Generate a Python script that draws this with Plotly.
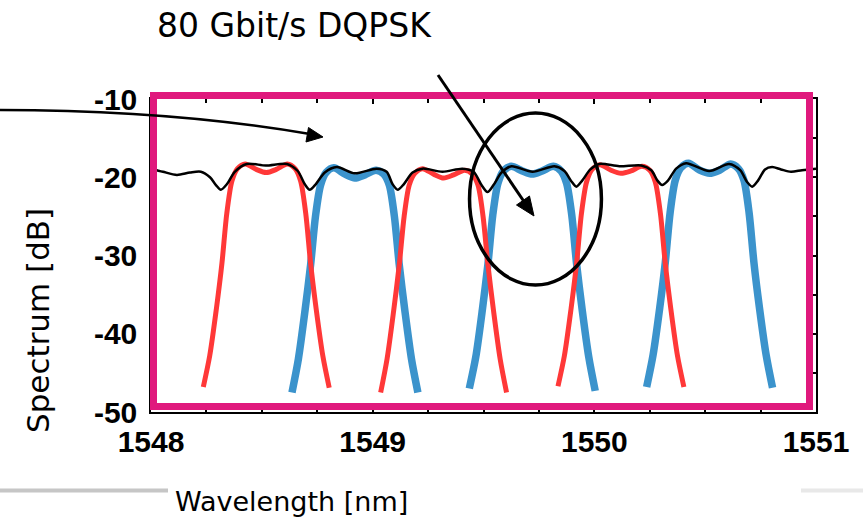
import plotly.graph_objects as go

# ---- spectra (wavelength in nm, power in dB) ----
red_ch1_x = [1548.236, 1548.265, 1548.295, 1548.320, 1548.342, 1548.365, 1548.390, 1548.425, 1548.475, 1548.520,
             1548.565, 1548.615, 1548.650, 1548.675, 1548.698, 1548.720, 1548.745, 1548.775, 1548.804]
red_ch1_y = [-46.8, -42.8, -36.8, -31.0, -24.6, -20.5, -18.9, -18.3, -19.0, -19.4,
             -19.0, -18.3, -18.9, -20.5, -24.6, -31.0, -36.8, -42.8, -46.9]

red_ch2_x = [1549.036, 1549.065, 1549.095, 1549.120, 1549.142, 1549.165, 1549.190, 1549.225, 1549.275, 1549.320,
             1549.365, 1549.415, 1549.450, 1549.475, 1549.498, 1549.520, 1549.545, 1549.575, 1549.604]
red_ch2_y = [-47.5, -43.2, -37.0, -31.2, -25.0, -21.0, -19.5, -18.9, -19.6, -20.1,
             -19.7, -19.1, -19.6, -21.0, -25.0, -31.2, -37.0, -43.2, -47.5]

red_ch3_x = [1549.836, 1549.865, 1549.895, 1549.920, 1549.942, 1549.965, 1549.990, 1550.025, 1550.075, 1550.120,
             1550.165, 1550.215, 1550.250, 1550.275, 1550.298, 1550.320, 1550.345, 1550.375, 1550.404]
red_ch3_y = [-46.7, -42.8, -36.8, -31.0, -24.6, -20.6, -19.0, -18.4, -19.1, -19.5,
             -19.2, -18.6, -19.1, -20.6, -24.6, -31.0, -36.8, -42.8, -46.8]

blue_ch1_x = [1548.636, 1548.665, 1548.695, 1548.720, 1548.742, 1548.765, 1548.790, 1548.825, 1548.875, 1548.920,
              1548.965, 1549.015, 1549.050, 1549.075, 1549.098, 1549.120, 1549.145, 1549.175, 1549.204]
blue_ch1_y = [-47.5, -43.2, -37.0, -31.2, -25.0, -21.0, -19.4, -18.8, -19.6, -20.1,
              -19.7, -19.1, -19.6, -21.0, -25.0, -31.2, -37.0, -43.2, -47.5]

blue_ch2_x = [1549.436, 1549.465, 1549.495, 1549.520, 1549.542, 1549.565, 1549.590, 1549.625, 1549.675, 1549.720,
              1549.765, 1549.815, 1549.850, 1549.875, 1549.898, 1549.920, 1549.945, 1549.975, 1550.004]
blue_ch2_y = [-47.0, -43.0, -36.9, -31.1, -24.8, -20.8, -19.2, -18.6, -19.2, -19.6,
              -19.2, -18.6, -19.2, -20.8, -24.8, -31.1, -36.9, -43.0, -47.3]

blue_ch3_x = [1550.236, 1550.265, 1550.295, 1550.320, 1550.342, 1550.365, 1550.390, 1550.425, 1550.475, 1550.520,
              1550.565, 1550.615, 1550.650, 1550.675, 1550.698, 1550.720, 1550.745, 1550.775, 1550.804]
blue_ch3_y = [-46.8, -42.7, -36.7, -30.9, -24.5, -20.4, -18.8, -18.2, -19.1, -19.5,
              -19.1, -18.3, -18.9, -20.4, -24.5, -30.9, -36.7, -42.7, -46.9]

# combined spectrum
total_x = [1548.000, 1548.054, 1548.117, 1548.176, 1548.225, 1548.266, 1548.293, 1548.315, 1548.342, 1548.378,
           1548.432, 1548.518, 1548.613, 1548.662, 1548.694, 1548.716, 1548.743, 1548.784, 1548.838, 1548.919,
           1549.018, 1549.063, 1549.090, 1549.113, 1549.140, 1549.180, 1549.225, 1549.315, 1549.405, 1549.455,
           1549.491, 1549.518, 1549.545, 1549.581, 1549.626, 1549.721, 1549.820, 1549.865, 1549.896, 1549.919,
           1549.946, 1549.982, 1550.023, 1550.113, 1550.212, 1550.257, 1550.284, 1550.306, 1550.333, 1550.369,
           1550.414, 1550.518, 1550.608, 1550.658, 1550.689, 1550.712, 1550.739, 1550.770, 1550.802, 1550.842,
           1550.887, 1550.937, 1551.000]
total_y = [-18.9, -19.3, -19.7, -19.4, -19.3, -20.0, -21.0, -21.6, -20.9, -19.3,
           -18.3, -18.5, -18.3, -19.2, -20.9, -21.6, -20.9, -19.4, -18.7, -19.5,
           -18.9, -19.3, -20.9, -21.6, -20.9, -19.4, -18.9, -19.3, -18.9, -19.3,
           -21.0, -21.9, -21.0, -19.4, -18.6, -19.3, -18.6, -19.2, -20.5, -21.2,
           -20.4, -19.0, -18.3, -18.6, -18.5, -19.1, -20.4, -21.0, -20.4, -18.9,
           -18.2, -19.2, -18.3, -19.1, -20.6, -21.2, -20.4, -19.0, -18.7, -19.0,
           -19.3, -19.1, -18.9]

x_tick_vals = [1548, 1549, 1550, 1551]
x_tick_text = ["1548", "1549", "1550", "1551"]
y_tick_vals = [-50, -40, -30, -20, -10]
y_tick_text = ["-50", "-40", "-30", "-20", "-10"]

RED = "#ff3838"
BLUE = "#3b93cc"
MAGENTA = "#e0197d"


def joined(*pairs):
    xs, ys = [], []
    for px_, py_ in pairs:
        xs += px_ + [None]
        ys += py_ + [None]
    return xs, ys


blue_x, blue_y = joined((blue_ch1_x, blue_ch1_y), (blue_ch2_x, blue_ch2_y), (blue_ch3_x, blue_ch3_y))
red_x, red_y = joined((red_ch1_x, red_ch1_y), (red_ch2_x, red_ch2_y), (red_ch3_x, red_ch3_y))

fig = go.Figure()
fig.add_trace(go.Scatter(x=blue_x, y=blue_y, mode="lines",
                         line=dict(color=BLUE, width=7.5, shape="spline", smoothing=0.8)))
fig.add_trace(go.Scatter(x=red_x, y=red_y, mode="lines",
                         line=dict(color=RED, width=5, shape="spline", smoothing=0.8)))
fig.add_trace(go.Scatter(x=total_x, y=total_y, mode="lines",
                         line=dict(color="black", width=2.5, shape="spline", smoothing=0.8)))

# plot-area geometry in pixels
W, H = 863, 522
L, R, T, B = 151, 47, 99, 110
PW, PH = W - L - R, H - T - B


def px(x, y):
    """pixel position on the page -> paper coordinates"""
    return (x - L) / PW, (H - B - y) / PH


def path(cmds):
    out = []
    for c in cmds:
        if isinstance(c, str):
            out.append(c)
        else:
            X, Y = px(*c)
            out.append(f"{X:.5f},{Y:.5f}")
    return " ".join(out)


shapes = []
# highlight frame
x0, y0 = px(153.5, 406.5)
x1, y1 = px(809.5, 95.5)
shapes.append(dict(type="rect", xref="paper", yref="paper", x0=x0, y0=y0, x1=x1, y1=y1,
                   line=dict(color=MAGENTA, width=7), fillcolor="rgba(0,0,0,0)", layer="above"))
# ellipse around the centre channels
shapes.append(dict(type="circle", xref="x", yref="y", x0=1549.437, x1=1550.032, y0=-33.77, y1=-11.79,
                   line=dict(color="black", width=3.5), layer="above"))
# curved arrow from the left
shapes.append(dict(type="path", xref="paper", yref="paper",
                   path=path(["M", (0, 110), "Q", (170, 110), (310, 134)]),
                   line=dict(color="black", width=2.5), layer="above"))
shapes.append(dict(type="path", xref="paper", yref="paper",
                   path=path(["M", (323, 137), "L", (306, 142), "L", (308.5, 127.5), "Z"]),
                   line=dict(color="black", width=1), fillcolor="black", layer="above"))
# straight arrow from the label
shapes.append(dict(type="path", xref="paper", yref="paper",
                   path=path(["M", (438, 75), "L", (525, 203)]),
                   line=dict(color="black", width=3), layer="above"))
shapes.append(dict(type="path", xref="paper", yref="paper",
                   path=path(["M", (534, 216), "L", (516.5, 205), "L", (529.5, 196), "Z"]),
                   line=dict(color="black", width=1), fillcolor="black", layer="above"))
# slide separator bars
gx0, gy = px(0, 490.5)
gx1, _ = px(168, 490.5)
shapes.append(dict(type="line", xref="paper", yref="paper", x0=gx0, x1=gx1, y0=gy, y1=gy,
                   line=dict(color="#c6c6c6", width=4)))
gx0, _ = px(801, 490.5)
gx1, _ = px(863, 490.5)
shapes.append(dict(type="line", xref="paper", yref="paper", x0=gx0, x1=gx1, y0=gy, y1=gy,
                   line=dict(color="#e8e8e8", width=4)))

annotations = []
tx, ty = px(294, 25)
annotations.append(dict(text="80 Gbit/s DQPSK", xref="paper", yref="paper", x=tx, y=ty,
                        xanchor="center", yanchor="middle", showarrow=False,
                        font=dict(family="DejaVu Sans", size=33, color="black")))
tx, ty = px(38, 320)
annotations.append(dict(text="Spectrum [dB]", xref="paper", yref="paper", x=tx, y=ty, textangle=-90,
                        xanchor="center", yanchor="middle", showarrow=False,
                        font=dict(family="DejaVu Sans", size=31, color="black")))
tx, ty = px(291, 501)
annotations.append(dict(text="Wavelength [nm]", xref="paper", yref="paper", x=tx, y=ty,
                        xanchor="center", yanchor="middle", showarrow=False,
                        font=dict(family="DejaVu Sans", size=27, color="black")))

tick_font = dict(family="Liberation Sans, Arial", size=30, color="black", weight="bold")

fig.update_layout(
    width=W, height=H,
    margin=dict(l=L, r=R, t=T, b=B, pad=0),
    paper_bgcolor="white", plot_bgcolor="white",
    showlegend=False,
    shapes=shapes, annotations=annotations,
    xaxis=dict(range=[1548, 1551], tickvals=x_tick_vals, ticktext=x_tick_text,
               showgrid=False, zeroline=False, showline=True, linecolor="black", linewidth=1.5,
               mirror="ticks", ticks="inside", ticklen=5, tickcolor="black", tickwidth=1.5,
               minor=dict(dtick=0.25, ticks="inside", ticklen=4, tickcolor="black", showgrid=False),
               tickfont=tick_font, ticklabelstandoff=2),
    yaxis=dict(range=[-50, -10], tickvals=y_tick_vals, ticktext=y_tick_text,
               showgrid=False, zeroline=False, showline=True, linecolor="black", linewidth=1.5,
               mirror="ticks", ticks="inside", ticklen=5, tickcolor="black", tickwidth=1.5,
               minor=dict(dtick=5, ticks="inside", ticklen=4, tickcolor="black", showgrid=False),
               tickfont=tick_font, ticklabelstandoff=6),
)

fig.write_html("out.html")
